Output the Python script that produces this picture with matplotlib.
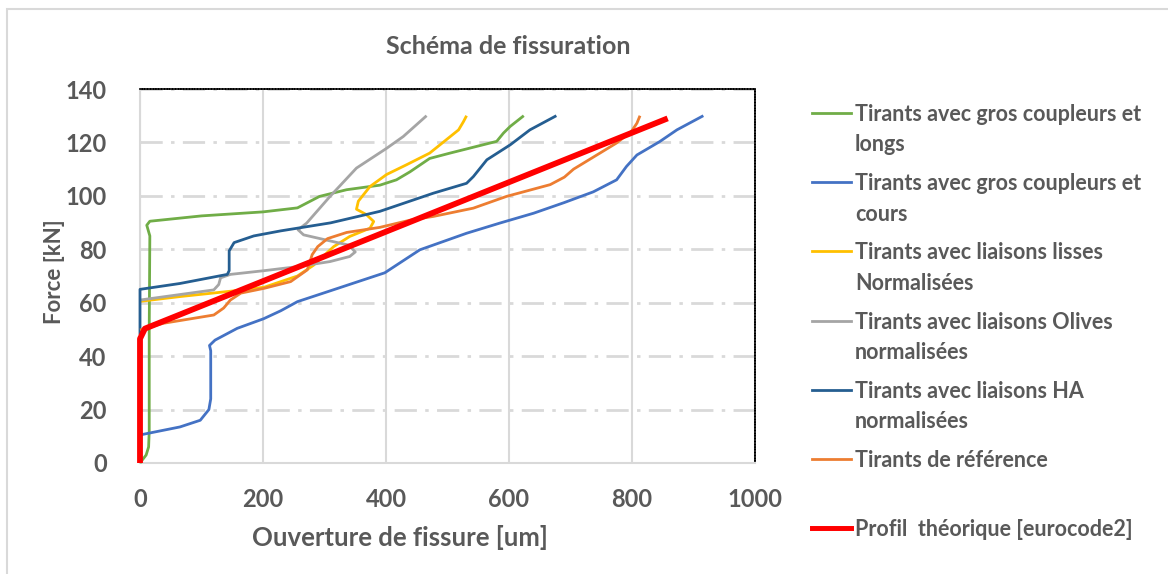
import matplotlib
matplotlib.use("Agg")
import numpy as np
from matplotlib import pyplot as plt
from matplotlib.lines import Line2D
from matplotlib.patches import Rectangle

plt.rcParams["font.family"] = ["Lato", "DejaVu Sans"]
plt.rcParams["lines.scale_dashes"] = False

grey_txt = "#595959"
grid_col = "#D9D9D9"

# crack opening [um] vs force [kN] for each tie series
long_u = [0, 10, 14, 15, 15, 16, 11, 16, 100, 200, 256, 292, 336, 390, 417, 439, 471, 504, 580, 591, 602, 624]
long_F = [0, 3, 6, 12, 50, 85, 89, 90.5, 92.5, 94, 95.5, 99.8, 102.3, 104, 106, 109, 114, 116, 120.4, 123.5, 126, 130]

short_u = [0, 65, 98, 112, 115, 115, 113, 122, 158, 201, 229, 256, 310, 398, 455, 531, 585, 640, 690, 737, 775, 791, 808, 845, 873, 916]
short_F = [10.5, 13.5, 16, 20, 24, 42, 44, 46, 50.4, 54, 57, 60.4, 64.5, 71.2, 79.8, 86, 89.8, 93.5, 97.5, 101.5, 106, 111, 115.3, 120.3, 124.7, 130]

lisse_u = [0, 65, 147, 202, 256, 282, 315, 341, 374, 380, 368, 352, 355, 374, 401, 433, 471, 518, 526, 531]
lisse_F = [60.5, 62.3, 64.3, 65.8, 70, 74, 81, 84.8, 87.9, 90.4, 93, 95, 98, 103.5, 108, 111.6, 116, 124.7, 127.8, 130]

olive_u = [0, 120, 128, 131, 147, 202, 256, 309, 341, 350, 339, 325, 266, 257, 271, 309, 352, 401, 428, 466]
olive_F = [61, 64.8, 66.8, 69.3, 70.6, 72, 73.5, 75.4, 77.3, 79, 81.6, 82.3, 85.4, 87.3, 89.8, 99.8, 110.4, 117.8, 122.2, 130]

ha_u = [0, 0, 0, 65, 142, 145, 145, 153, 185, 229, 310, 390, 477, 531, 542, 564, 602, 634, 677]
ha_F = [48, 62, 65, 67.2, 70.6, 72, 79.4, 82.5, 85, 86.9, 89.9, 94.2, 101, 104.7, 107.2, 113.5, 119.1, 124.7, 130]

ref_u = [0, 38, 120, 136, 147, 164, 202, 245, 272, 280, 289, 305, 336, 390, 439, 477, 542, 596, 667, 690, 705, 775, 799, 808, 813]
ref_F = [49.8, 52.3, 55.4, 58, 61, 63.6, 65.4, 67.9, 72.3, 78, 81, 84, 86.3, 88.2, 90.9, 92.3, 95.4, 99.8, 104.2, 107, 110, 119.8, 124.1, 127.2, 130]

ec2_u = [0, 0, 8, 858]
ec2_F = [0, 46.5, 50.3, 129]

series = [
    (long_u, long_F, "#70AD47", 2.0, "Tirants avec gros coupleurs et\nlongs"),
    (short_u, short_F, "#4472C4", 2.0, "Tirants avec gros coupleurs et\ncours"),
    (lisse_u, lisse_F, "#FFC000", 2.0, "Tirants avec liaisons lisses\nNormalisées"),
    (olive_u, olive_F, "#A5A5A5", 2.0, "Tirants avec liaisons Olives\nnormalisées"),
    (ha_u, ha_F, "#255E91", 2.0, "Tirants avec liaisons HA\nnormalisées"),
    (ref_u, ref_F, "#ED7D31", 2.0, "Tirants de référence"),
    (ec2_u, ec2_F, "#FF0000", 4.2, "Profil  théorique [eurocode2]"),
]

fig = plt.figure(figsize=(11.68, 5.74), dpi=100)
fig.patches.append(Rectangle((7/1168, -0.1), 1.2, 1 - 9/574 + 0.1, transform=fig.transFigure,
                             fill=False, edgecolor=grid_col, lw=1.5))
ax = fig.add_axes([140/1168, 1 - 463/574, 615/1168, 374/574])

for u, F, c, lw, label in series:
    ax.plot(u, F, color=c, lw=lw, solid_capstyle="butt", solid_joinstyle="round",
            clip_on=False, zorder=3)

ax.set_xlim(0, 1000)
ax.set_ylim(0, 140)
ax.set_xticks(np.arange(0, 1001, 200))
ax.set_yticks(np.arange(0, 141, 20))
ax.tick_params(length=0, labelsize=17, labelcolor=grey_txt)
ax.tick_params(axis="x", pad=18)
ax.tick_params(axis="y", pad=24)
for lab in ax.get_xticklabels() + ax.get_yticklabels():
    lab.set_fontweight("bold")

ax.xaxis.grid(True, color=grid_col, lw=1.5, ls="-")
ax.yaxis.grid(True, color=grid_col, lw=2, ls=(0, (16, 6, 2.5, 6)))
ax.set_axisbelow(True)
for side in ["left", "bottom"]:
    ax.spines[side].set_color(grid_col)
    ax.spines[side].set_linewidth(1.5)
for side in ["top", "right"]:
    ax.spines[side].set_color("black")
    ax.spines[side].set_linestyle((0, (1, 1)))
    ax.spines[side].set_linewidth(1.2)

ax.set_xlabel("Ouverture de fissure [um]", fontsize=18.5, fontweight="bold", color=grey_txt, va="center")
ax.xaxis.set_label_coords(260/615, -74/374)
ax.set_ylabel("Force [kN]", fontsize=16, fontweight="bold", color=grey_txt, va="center")
ax.yaxis.set_label_coords(-85/615, 191/374)
fig.text(508/1168, 1 - 47/574, "Schéma de fissuration", ha="center", va="center",
         fontsize=18, fontweight="bold", color=grey_txt)

# legend drawn beside the axes, swatch level with the first line of each label
for i, (u, F, c, lw, label) in enumerate(series):
    y = 1 - (113 + i * 69.2) / 574
    fig.add_artist(Line2D([812/1168, 851/1168], [y, y], color=c, lw=lw * 0.85 if lw > 3 else lw,
                          transform=fig.transFigure))
    fig.text(855/1168, y + 9/574, label, ha="left", va="top", fontsize=15.5, fontweight="bold",
             color=grey_txt, linespacing=1.55)

fig.savefig("out.png", dpi=100)
